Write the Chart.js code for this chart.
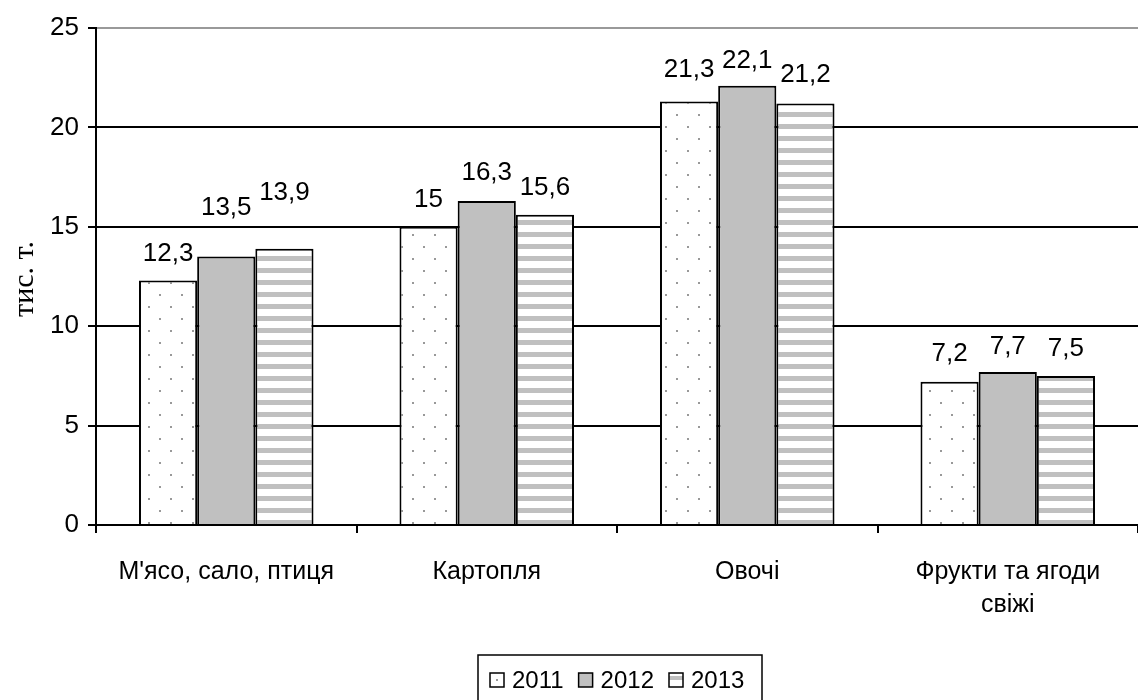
<!DOCTYPE html>
<html>
<head>
<meta charset="utf-8">
<script src="https://cdn.jsdelivr.net/npm/chart.js@4.4.0/dist/chart.umd.min.js"></script>
<style>
    html, body { margin: 0; padding: 0; background: #fff; }
    #wrap { width: 1138px; height: 700px; position: relative; }
</style>
</head>
<body>
<div id="wrap"><canvas id="chart" width="1138" height="700"></canvas></div>
<script>
// categories and values (тис. т.)
const categories = [["М'ясо, сало, птиця"], ["Картопля"], ["Овочі"], ["Фрукти та ягоди", "свіжі"]];
const years = ['2011', '2012', '2013'];
const values2011 = [12.3, 15, 21.3, 7.2];
const values2012 = [13.5, 16.3, 22.1, 7.7];
const values2013 = [13.9, 15.6, 21.2, 7.5];
const yTicks = [0, 5, 10, 15, 20, 25];

// how high the middle of each value label sits above its bar (px), per year
const labelLift = [
    [28, 29, 34, 30],
    [51, 30, 27, 27],
    [58, 29, 31, 29]
];

const FONT = 'Arial, "Liberation Sans", sans-serif';

function dotPattern() {
    const c = document.createElement('canvas');
    c.width = 22;
    c.height = 24;
    const ctx = c.getContext('2d');
    ctx.fillStyle = '#fff';
    ctx.fillRect(0, 0, 22, 24);
    ctx.fillStyle = '#999';
    ctx.fillRect(16, 18, 2, 2);
    ctx.fillRect(5, 6, 2, 2);
    return document.getElementById('chart').getContext('2d').createPattern(c, 'repeat');
}

function stripePattern() {
    const c = document.createElement('canvas');
    c.width = 8;
    c.height = 12;
    const ctx = c.getContext('2d');
    ctx.fillStyle = '#fff';
    ctx.fillRect(0, 0, 8, 12);
    ctx.fillStyle = '#c0c0c0';
    ctx.fillRect(0, 4, 8, 5);
    return document.getElementById('chart').getContext('2d').createPattern(c, 'repeat');
}

const fills = [dotPattern(), '#c0c0c0', stripePattern()];
const series = [values2011, values2012, values2013];

const extras = {
    id: 'extras',
    afterDatasetsDraw(chart) {
        const ctx = chart.ctx;
        ctx.save();
        ctx.fillStyle = '#000';
        ctx.font = '26px ' + FONT;
        ctx.textAlign = 'center';
        ctx.textBaseline = 'alphabetic';
        chart.data.datasets.forEach((ds, i) => {
            chart.getDatasetMeta(i).data.forEach((bar, j) => {
                const txt = String(ds.data[j]).replace('.', ',');
                ctx.fillText(txt, bar.x, bar.y - labelLift[i][j] + 9);
            });
        });
        ctx.restore();
    },
    afterDraw(chart) {
        const ctx = chart.ctx;
        ctx.save();
        // y axis title
        ctx.translate(25, 279);
        ctx.rotate(-Math.PI / 2);
        ctx.font = '30px "Liberation Serif", "Times New Roman", serif';
        ctx.fillStyle = '#000';
        ctx.textAlign = 'center';
        ctx.textBaseline = 'middle';
        ctx.fillText('тис. т.', 0, 0);
        ctx.restore();

        // legend box
        ctx.save();
        const lx = 478, ly = 655, lw = 284, lh = 50;
        ctx.strokeStyle = '#000';
        ctx.lineWidth = 1.5;
        ctx.strokeRect(lx, ly, lw, lh);
        ctx.font = '24px ' + FONT;
        ctx.textBaseline = 'middle';
        let x = lx + 12;
        const cy = ly + 25;
        const s = 14;
        years.forEach((y, i) => {
            ctx.fillStyle = i === 1 ? '#c0c0c0' : '#fff';
            ctx.fillRect(x, cy - s / 2, s, s);
            if (i === 0) {
                ctx.fillStyle = '#999';
                ctx.fillRect(x + 6, cy - 1, 2, 2);
            } else if (i === 2) {
                ctx.fillStyle = '#c0c0c0';
                ctx.fillRect(x, cy - 4, s, 4);
            }
            ctx.strokeStyle = '#000';
            ctx.lineWidth = 1.5;
            ctx.strokeRect(x, cy - s / 2, s, s);
            ctx.fillStyle = '#000';
            ctx.fillText(y, x + s + 8, cy + 1);
            x += s + 8 + ctx.measureText(y).width + 15;
        });
        ctx.restore();
    }
};

new Chart(document.getElementById('chart'), {
    type: 'bar',
    data: {
        labels: categories,
        datasets: years.map((y, i) => ({
            label: y,
            data: series[i],
            backgroundColor: fills[i],
            borderColor: '#000',
            borderWidth: 2,
            borderSkipped: 'bottom',
            categoryPercentage: 0.67,
            barPercentage: 1
        }))
    },
    options: {
        responsive: false,
        animation: false,
        devicePixelRatio: 1,
        layout: { padding: { top: 28, right: 0, left: 0, bottom: 0 } },
        plugins: {
            legend: { display: false },
            tooltip: { enabled: false }
        },
        scales: {
            x: {
                offset: true,
                grid: {
                    offset: true,
                    drawOnChartArea: false,
                    drawTicks: true,
                    tickLength: 8,
                    color: '#000',
                    lineWidth: 2
                },
                border: { color: '#000', width: 2 },
                ticks: {
                    color: '#000',
                    font: { family: FONT, size: 25, lineHeight: 1.32 },
                    padding: 23,
                    maxRotation: 0,
                    autoSkip: false
                },
                afterFit(scale) { scale.height = 175; }
            },
            y: {
                min: 0,
                max: 25,
                afterBuildTicks(scale) { scale.ticks = yTicks.map(v => ({ value: v })); },
                grid: {
                    color: ctx => ctx.tick && ctx.tick.value === 25 ? '#999' : '#000',
                    lineWidth: 2,
                    drawTicks: true,
                    tickLength: 8,
                    tickColor: '#000'
                },
                border: { color: '#000', width: 2 },
                ticks: {
                    color: '#000',
                    font: { family: FONT, size: 26 },
                    padding: 9
                },
                afterFit(scale) { scale.width = 96; }
            }
        }
    },
    plugins: [extras]
});
</script>
</body>
</html>
